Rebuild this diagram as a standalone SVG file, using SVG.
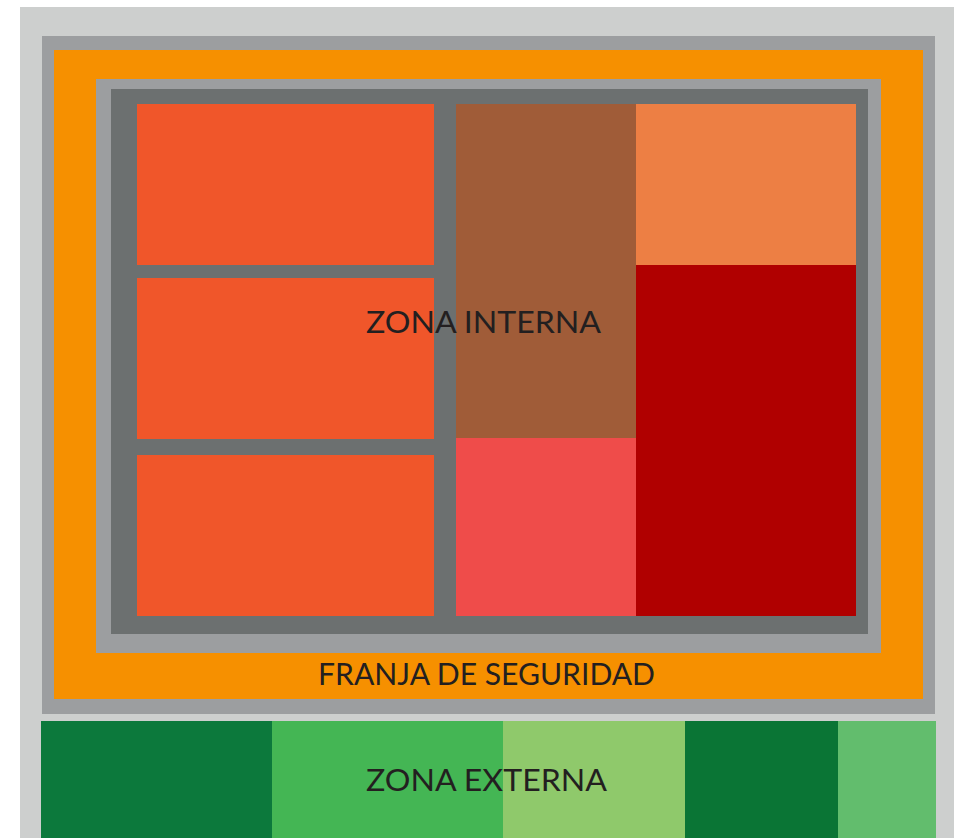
<svg xmlns="http://www.w3.org/2000/svg" width="959" height="838" viewBox="0 0 959 838">
<style>
.lbl{font-family:Lato,"Open Sans","Liberation Sans",sans-serif;font-size:30px;fill:#231f20;text-anchor:middle}
</style>
<rect x="0" y="0" width="959" height="838" fill="#ffffff"/>
<g id="zonas">
<rect x="20" y="7" width="934" height="831" fill="#cdcfce"/>
<rect x="42" y="36" width="893" height="678" fill="#9c9ea0"/>
<rect x="54" y="50" width="869" height="649" fill="#f69000"/>
<rect x="96" y="79" width="785" height="574" fill="#9c9ea0"/>
<rect x="111" y="89" width="757" height="545" fill="#6c7070"/>
</g>
<g id="zona-interna">
<rect x="137" y="104" width="297" height="161" fill="#f0562a"/>
<rect x="137" y="278" width="297" height="161" fill="#f0562a"/>
<rect x="137" y="455" width="297" height="161" fill="#f0562a"/>
<rect x="456" y="104" width="180" height="334" fill="#a05c38"/>
<rect x="456" y="438" width="180" height="178" fill="#ef4c4a"/>
<rect x="636" y="104" width="220" height="161" fill="#ed7f44"/>
<rect x="636" y="265" width="220" height="351" fill="#b00000"/>
<text class="lbl" x="483.5" y="333" textLength="235" lengthAdjust="spacingAndGlyphs">ZONA INTERNA</text>
</g>
<g id="franja">
<text class="lbl" x="486.5" y="685" textLength="337" lengthAdjust="spacingAndGlyphs">FRANJA DE SEGURIDAD</text>
</g>
<g id="zona-externa">
<rect x="41" y="721" width="231" height="117" fill="#0c793c"/>
<rect x="272" y="721" width="231" height="117" fill="#44b654"/>
<rect x="503" y="721" width="182" height="117" fill="#8fc96b"/>
<rect x="685" y="721" width="153" height="117" fill="#0a7535"/>
<rect x="838" y="721" width="98" height="117" fill="#62bd6d"/>
<text class="lbl" x="486.5" y="791" textLength="241" lengthAdjust="spacingAndGlyphs">ZONA EXTERNA</text>
</g>
<g id="connectors"/>
</svg>
